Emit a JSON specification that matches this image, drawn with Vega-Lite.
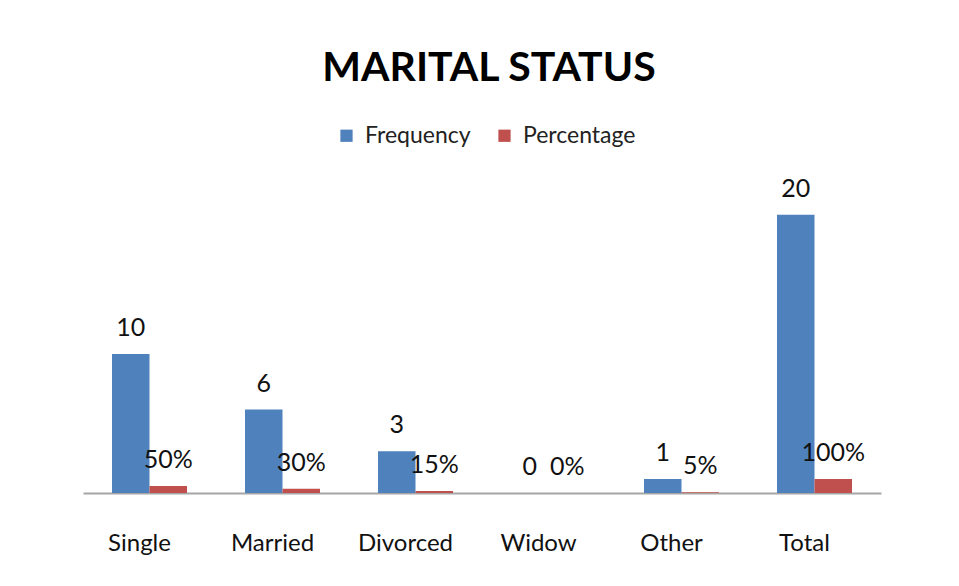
{
  "$schema": "https://vega.github.io/schema/vega-lite/v6.json",
  "width": 798,
  "height": 313,
  "autosize": "none",
  "padding": {"left": 83, "top": 180, "right": 78, "bottom": 93},
  "background": "white",
  "title": {"text": "MARITAL STATUS", "font": "Lato", "fontSize": 41, "fontWeight": "bold", "color": "#000000", "anchor": "middle", "offset": 34, "dx": 7},
  "data": {"values": [
    {"category": "Single", "series": "Frequency", "value": 10, "label": "10"},
    {"category": "Single", "series": "Percentage", "value": 0.5, "label": "50%"},
    {"category": "Married", "series": "Frequency", "value": 6, "label": "6"},
    {"category": "Married", "series": "Percentage", "value": 0.3, "label": "30%"},
    {"category": "Divorced", "series": "Frequency", "value": 3, "label": "3"},
    {"category": "Divorced", "series": "Percentage", "value": 0.15, "label": "15%"},
    {"category": "Widow", "series": "Frequency", "value": 0, "label": "0"},
    {"category": "Widow", "series": "Percentage", "value": 0, "label": "0%"},
    {"category": "Other", "series": "Frequency", "value": 1, "label": "1"},
    {"category": "Other", "series": "Percentage", "value": 0.05, "label": "5%"},
    {"category": "Total", "series": "Frequency", "value": 20, "label": "20"},
    {"category": "Total", "series": "Percentage", "value": 1, "label": "100%"}
  ]},
  "encoding": {
    "x": {"field": "category", "type": "nominal", "sort": null,
      "scale": {"paddingInner": 0.436, "paddingOuter": 0.218},
      "axis": {"title": null, "labelAngle": 0, "domain": true, "domainColor": "#a6a6a6", "domainWidth": 2, "ticks": false, "labelFont": "Lato", "labelFontSize": 24, "labelColor": "#111111", "labelPadding": 38, "labelOffset": -10}},
    "xOffset": {"field": "series", "type": "nominal"},
    "y": {"field": "value", "type": "quantitative", "scale": {"domain": [0, 22.5], "nice": false}, "axis": null}
  },
  "layer": [
    {
      "mark": {"type": "bar"},
      "encoding": {
        "color": {"field": "series", "type": "nominal",
          "scale": {"domain": ["Frequency", "Percentage"], "range": ["#4F81BD", "#C0504D"]},
          "legend": {"title": null, "orient": "none", "legendX": 252, "legendY": -56, "direction": "horizontal", "symbolType": "square", "symbolSize": 150, "labelFont": "Lato", "labelFontSize": 23, "labelColor": "#222222", "columnPadding": 22, "symbolStrokeWidth": 0, "labelOffset": 7}}
      }
    },
    {
      "mark": {"type": "text", "baseline": "bottom", "dy": -13, "font": "Lato", "fontSize": 25, "color": "#111111"},
      "encoding": {
        "text": {"field": "label"}
      }
    }
  ],
  "config": {"view": {"stroke": null}}
}
